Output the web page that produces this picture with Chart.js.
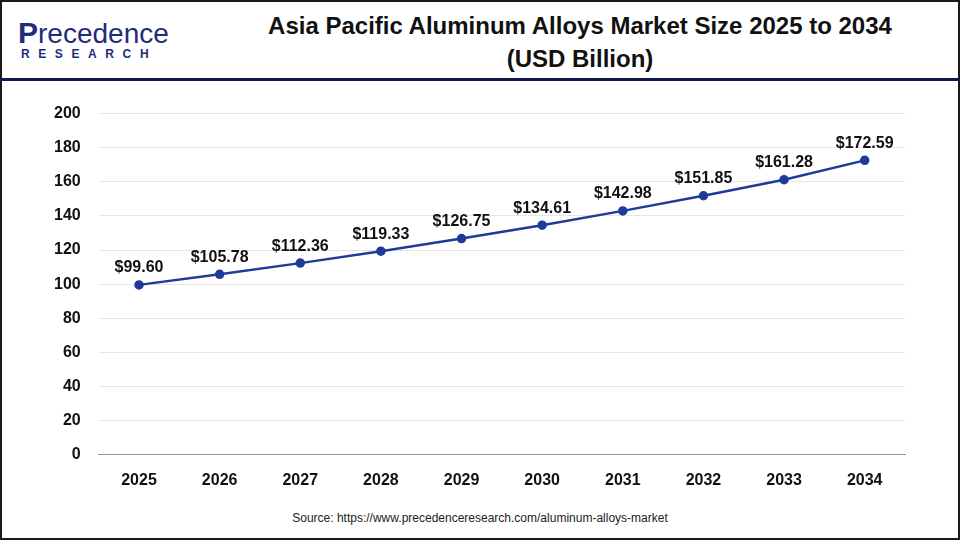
<!DOCTYPE html>
<html>
<head>
<meta charset="utf-8">
<script src="https://cdn.jsdelivr.net/npm/chart.js@4"></script>
<style>
  body { margin: 0; background: #fff; font-family: Arial, "Liberation Sans", sans-serif; }
  #frame { position: absolute; left: 0; top: 0; width: 956px; height: 536px; border: 2px solid #1a1a1a; }
  #head { position: absolute; left: 0; top: 0; width: 958px; height: 78px; border-bottom: 3px solid #0f1a4a; }
  #logo1 { position: absolute; left: 18px; top: 16px; font-size: 28px; color: #1f2c7a; }
  #logo2 { position: absolute; left: 21px; top: 47px; font-size: 12px; font-weight: bold; color: #1f2c7a; letter-spacing: 8.6px; }
  #title { position: absolute; left: 200px; width: 760px; top: 9px; text-align: center; font-size: 24px; font-weight: bold; color: #111; line-height: 33px; }
  #source { position: absolute; left: 0; width: 960px; top: 511px; text-align: center; font-size: 12px; color: #222; }
  #wrap { position: absolute; left: 0; top: 86px; width: 960px; height: 412px; }
</style>
</head>
<body>
<div id="frame"></div>
<div id="head"></div>
<div id="logo1"><b style="font-size:30px">P</b>recedence</div>
<div id="logo2">RESEARCH</div>
<div id="title">Asia Pacific Aluminum Alloys Market Size 2025 to 2034<br>(USD Billion)</div>
<div id="wrap"><canvas id="grafico" width="960" height="412"></canvas></div>
<div id="source">Source: https://www.precedenceresearch.com/aluminum-alloys-market</div>
<script>
// dados do gráfico
const anos = ['2025', '2026', '2027', '2028', '2029', '2030', '2031', '2032', '2033', '2034'];
const valores = [99.60, 105.78, 112.36, 119.33, 126.75, 134.61, 142.98, 151.85, 161.28, 172.59];

// plugin p/ escrever os rótulos em cima dos pontos
const rotulos = {
  id: 'rotulos',
  afterDatasetsDraw(chart) {
    const c = chart.ctx;
    const meta = chart.getDatasetMeta(0);
    c.save();
    c.font = 'bold 16px Arial, "Liberation Sans", sans-serif';
    c.fillStyle = '#111';
    c.textAlign = 'center';
    c.textBaseline = 'bottom';
    meta.data.forEach((p, i) => {
      c.fillText('$' + valores[i].toFixed(2), p.x, p.y - 9);
    });
    c.restore();
  }
};

new Chart(document.getElementById('grafico'), {
  type: 'line',
  data: {
    labels: anos,
    datasets: [{
      data: valores,
      borderColor: '#1f3b9a',
      backgroundColor: '#1f3b9a',
      borderWidth: 2.5,
      pointRadius: 3.5,
      tension: 0
    }]
  },
  options: {
    responsive: false,
    animation: false,
    layout: { padding: { left: 36, right: 55, top: 10, bottom: 0 } },
    scales: {
      x: {
        offset: true,
        grid: { display: false },
        border: { color: '#999' },
        ticks: { color: '#111', font: { size: 16, weight: 'bold' }, padding: 8, maxRotation: 0 }
      },
      y: {
        min: 0,
        max: 200,
        ticks: { stepSize: 20, color: '#111', font: { size: 16, weight: 'bold' }, padding: 18 },
        grid: { color: '#e6e6e6', drawTicks: false },
        border: { display: false }
      }
    },
    plugins: { legend: { display: false }, tooltip: { enabled: false } }
  },
  plugins: [rotulos]
});
</script>
</body>
</html>
